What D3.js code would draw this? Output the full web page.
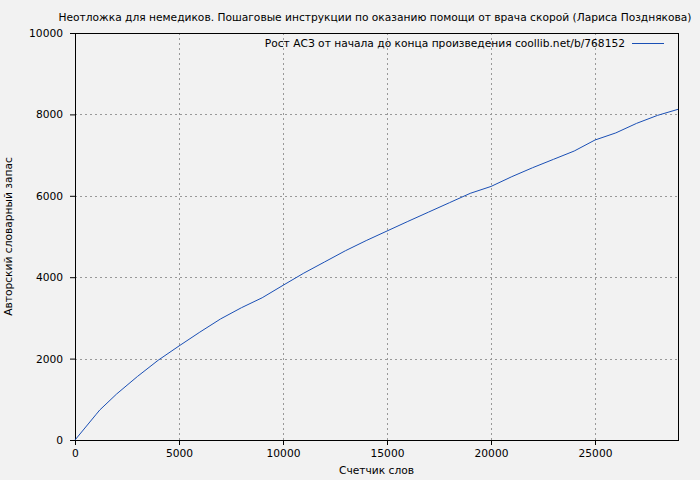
<!DOCTYPE html>
<html>
<head>
<meta charset="utf-8">
<script src="https://cdn.jsdelivr.net/npm/d3@7"></script>
<style>
  body { margin: 0; background: #f2f2f2; }
  svg { display: block; font-family: "DejaVu Sans", sans-serif; }
</style>
</head>
<body>
<svg id="chart" width="700" height="480"></svg>
<script>
// word counter -> author vocabulary
const wordCount = [0, 1000, 1190, 2000, 3000, 4000, 5000, 6000, 7000, 8000, 9000, 10000,
  11000, 12000, 13000, 14000, 15000, 16000, 17000, 18000, 19000, 20000, 21000, 22000,
  23000, 24000, 25000, 26000, 27000, 28000, 28990];
const vocab = [0, 620, 737, 1130, 1560, 1960, 2310, 2650, 2975, 3250, 3495, 3800,
  4100, 4375, 4650, 4900, 5135, 5370, 5600, 5830, 6060, 6230, 6470, 6690,
  6895, 7100, 7371, 7545, 7780, 7975, 8125];
const xTicks = [0, 5000, 10000, 15000, 20000, 25000];
const yTicks = [0, 2000, 4000, 6000, 8000, 10000];

const title = "Неотложка для немедиков. Пошаговые инструкции по оказанию помощи от врача скорой (Лариса Позднякова)";
const legendLabel = "Рост АСЗ от начала до конца произведения coollib.net/b/768152";

const margin = {top: 33, right: 22, bottom: 40, left: 75};
const width = 700 - margin.left - margin.right;
const height = 480 - margin.top - margin.bottom;
const lineColor = "#1a4fb5";
const fs = 10.67;

const svg = d3.select("#chart");
svg.append("rect").attr("width", 700).attr("height", 480).attr("fill", "#f2f2f2");

const g = svg.append("g").attr("transform", `translate(${margin.left},${margin.top})`);

const x = d3.scaleLinear().domain([0, d3.max(wordCount)]).range([0, width]);
const y = d3.scaleLinear().domain([0, 10000]).range([height, 0]);

// grid
g.append("g").selectAll("line")
  .data(xTicks.filter(d => d > 0))
  .join("line")
  .attr("x1", d => Math.round(x(d)) + 0.5).attr("x2", d => Math.round(x(d)) + 0.5)
  .attr("y1", 0).attr("y2", height)
  .attr("stroke", "#999").attr("stroke-dasharray", "2,3");
g.append("g").selectAll("line")
  .data(yTicks.filter(d => d > 0 && d < 10000))
  .join("line")
  .attr("y1", d => Math.round(y(d)) + 0.5).attr("y2", d => Math.round(y(d)) + 0.5)
  .attr("x1", 0).attr("x2", width)
  .attr("stroke", "#999").attr("stroke-dasharray", "2,3");

// axes
const xAxis = g.append("g")
  .attr("transform", `translate(0,${height})`)
  .call(d3.axisBottom(x).tickValues(xTicks).tickSize(5).tickPadding(4).tickFormat(d3.format("d")));
const yAxis = g.append("g")
  .call(d3.axisLeft(y).tickValues(yTicks).tickSize(5).tickPadding(7).tickFormat(d3.format("d")));
[xAxis, yAxis].forEach(a => {
  a.select(".domain").remove();
  a.selectAll("text").attr("font-size", fs).attr("fill", "#000").attr("font-family", "DejaVu Sans, sans-serif");
  a.selectAll("line").attr("stroke", "#000");
});

// frame
g.append("rect")
  .attr("x", 0.5).attr("y", 0.5)
  .attr("width", width).attr("height", height)
  .attr("fill", "none").attr("stroke", "#000");

// line
const line = d3.line().x((d, i) => x(wordCount[i])).y(d => y(d));
g.append("path")
  .datum(vocab)
  .attr("fill", "none")
  .attr("stroke", lineColor)
  .attr("stroke-width", 1)
  .attr("d", line);

// legend
g.append("text")
  .attr("x", width - 53).attr("y", 14)
  .attr("text-anchor", "end").attr("font-size", fs)
  .text(legendLabel);
g.append("line")
  .attr("x1", width - 46).attr("x2", width - 14)
  .attr("y1", 10.5).attr("y2", 10.5)
  .attr("stroke", lineColor);

// titles
svg.append("text")
  .attr("x", 375).attr("y", 21)
  .attr("text-anchor", "middle").attr("font-size", fs)
  .text(title);
svg.append("text")
  .attr("x", margin.left + width / 2).attr("y", 474)
  .attr("text-anchor", "middle").attr("font-size", fs)
  .text("Счетчик слов");
svg.append("text")
  .attr("transform", `translate(12,${margin.top + height / 2}) rotate(-90)`)
  .attr("text-anchor", "middle").attr("font-size", fs)
  .text("Авторский словарный запас");
</script>
</body>
</html>
